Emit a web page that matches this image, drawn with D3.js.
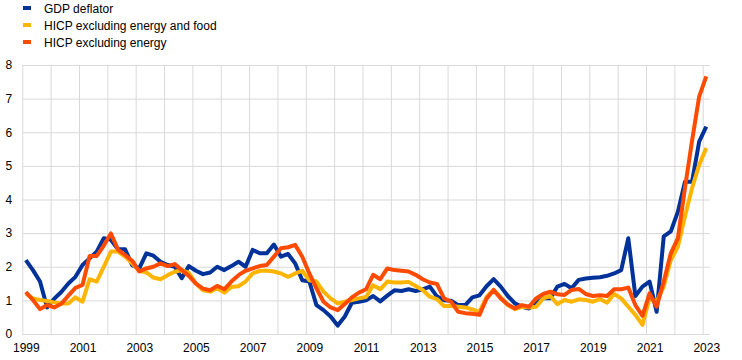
<!DOCTYPE html>
<html><head><meta charset="utf-8">
<script src="https://cdn.jsdelivr.net/npm/d3@7"></script>
<style>body{margin:0;background:#fff;}svg{display:block;font-family:"Liberation Sans",Arial,sans-serif;}</style>
</head><body><svg id="c" width="742" height="360"></svg>
<script>
const startYear = 1999;
const yTicks = [0,1,2,3,4,5,6,7,8];
const xTickLabels = ["1999","2001","2003","2005","2007","2009","2011","2013","2015","2017","2019","2021","2023"];
const seriesNames = ["GDP deflator","HICP excluding energy and food","HICP excluding energy"];
const seriesColors = ["#003299","#FFB400","#FF4B00"];

const gdpDeflator = [2.2,1.9,1.56,0.79,1.05,1.25,1.5,1.7,2.05,2.25,2.45,2.85,2.8,2.52,2.52,2.05,
1.95,2.4,2.33,2.15,2.05,2.0,1.66,2.02,1.88,1.78,1.83,2.0,1.9,2.02,2.15,2.0,
2.5,2.4,2.4,2.66,2.3,2.38,2.1,1.6,1.56,0.86,0.71,0.52,0.25,0.52,0.93,0.96,
1.0,1.13,0.97,1.14,1.3,1.28,1.33,1.28,1.33,1.41,1.12,1.0,0.99,0.86,0.86,1.09,
1.15,1.42,1.63,1.41,1.13,0.91,0.81,0.76,0.91,1.06,1.06,1.41,1.49,1.36,1.61,1.65,
1.67,1.69,1.73,1.8,1.9,2.85,1.13,1.41,1.56,0.66,2.9,3.05,3.64,4.53,4.53,5.72,6.17];

const hicpExEnergyFood = [1.2,1.06,1.01,0.98,0.94,0.91,0.91,1.09,0.96,1.63,1.56,2.0,2.45,2.45,2.3,2.1,
1.88,1.83,1.68,1.63,1.75,1.85,1.9,1.82,1.5,1.3,1.26,1.36,1.23,1.4,1.42,1.56,
1.8,1.88,1.88,1.86,1.8,1.7,1.8,1.88,1.6,1.56,1.26,1.06,0.91,0.96,1.01,1.06,
1.1,1.45,1.33,1.56,1.53,1.53,1.55,1.43,1.31,1.11,1.04,0.83,0.83,0.81,0.79,0.73,
0.66,1.1,1.31,1.09,0.86,0.74,0.81,0.79,0.81,1.06,1.13,0.89,1.01,0.96,1.03,1.01,
0.96,1.04,0.93,1.19,1.06,0.81,0.57,0.27,1.06,0.96,1.41,2.2,2.6,3.5,4.34,5.03,5.53];

const hicpExEnergy = [1.25,1.01,0.74,0.86,0.79,0.9,1.14,1.37,1.46,2.32,2.32,2.63,2.99,2.51,2.35,2.18,
1.86,1.95,2.0,2.1,2.02,2.08,1.9,1.73,1.5,1.35,1.3,1.43,1.33,1.56,1.75,1.88,
1.95,2.02,2.05,2.3,2.55,2.58,2.65,2.3,1.8,1.36,0.96,0.79,0.71,0.89,1.09,1.23,
1.33,1.76,1.63,1.95,1.9,1.88,1.86,1.76,1.63,1.53,1.49,1.06,0.96,0.66,0.62,0.6,
0.57,1.05,1.31,1.06,0.88,0.76,0.86,0.81,1.06,1.19,1.26,1.18,1.16,1.31,1.34,1.19,
1.13,1.15,1.13,1.33,1.33,1.38,0.86,0.54,1.21,0.81,1.56,2.4,2.85,4.35,5.75,7.06,7.66];

const svg = d3.select("#c");
const pLeft = 22.3, pRight = 709.8, pTop = 65, pBottom = 334;
const nQ = gdpDeflator.length;
const x = d3.scaleLinear().domain([0, nQ]).range([pLeft, pRight]);
const y = d3.scaleLinear().domain([0, 8]).range([pBottom, pTop]);

// horizontal grid
const yAxis = d3.axisLeft(y).tickValues(yTicks).tickSize(-(pRight-pLeft)).tickFormat(d3.format("d"));
const gy = svg.append("g").attr("transform",`translate(${pLeft},0)`).call(yAxis);
gy.select(".domain").remove();
gy.selectAll(".tick line").attr("stroke","#d9d9d9").attr("stroke-width",1);
gy.selectAll(".tick text").attr("x",-10).attr("font-size",12).attr("fill","#000")
  .attr("font-family","Liberation Sans, Arial, sans-serif");

// vertical grid at year boundaries
const yearBounds = d3.range(0, nQ, 4);
const xGrid = d3.axisBottom(x).tickValues(yearBounds).tickSize(-(pBottom-pTop)).tickFormat("");
const gxg = svg.append("g").attr("transform",`translate(0,${pBottom})`).call(xGrid);
gxg.select(".domain").remove();
gxg.selectAll(".tick line").attr("stroke","#d9d9d9").attr("stroke-width",1);

// x labels at Q1 of odd years
const labelIdx = xTickLabels.map(l => (+l - startYear) * 4 + 0.5);
const xAxis = d3.axisBottom(x).tickValues(labelIdx).tickSize(0).tickFormat((d,i)=>xTickLabels[i]);
const gx = svg.append("g").attr("transform",`translate(0,${pBottom})`).call(xAxis);
gx.select(".domain").remove();
gx.selectAll(".tick text").attr("dy","0.71em").attr("y",9).attr("font-size",12).attr("fill","#000")
  .attr("font-family","Liberation Sans, Arial, sans-serif");

// lines
const line = d3.line().x((d,i)=>x(i+0.5)).y(d=>y(d));
[gdpDeflator, hicpExEnergyFood, hicpExEnergy].forEach((s,k)=>{
  svg.append("path").datum(s).attr("d",line).attr("fill","none")
    .attr("stroke",seriesColors[k]).attr("stroke-width",4).attr("stroke-linejoin","round");
});

// legend
const lg = svg.append("g");
seriesNames.forEach((n,k)=>{
  const cy = 8 + k*17;
  lg.append("rect").attr("x",23).attr("y",cy-2).attr("width",8).attr("height",4).attr("fill",seriesColors[k]);
  lg.append("text").attr("x",44).attr("y",cy+4.5).attr("font-size",12).attr("fill","#000").text(n);
});
</script></body></html>
